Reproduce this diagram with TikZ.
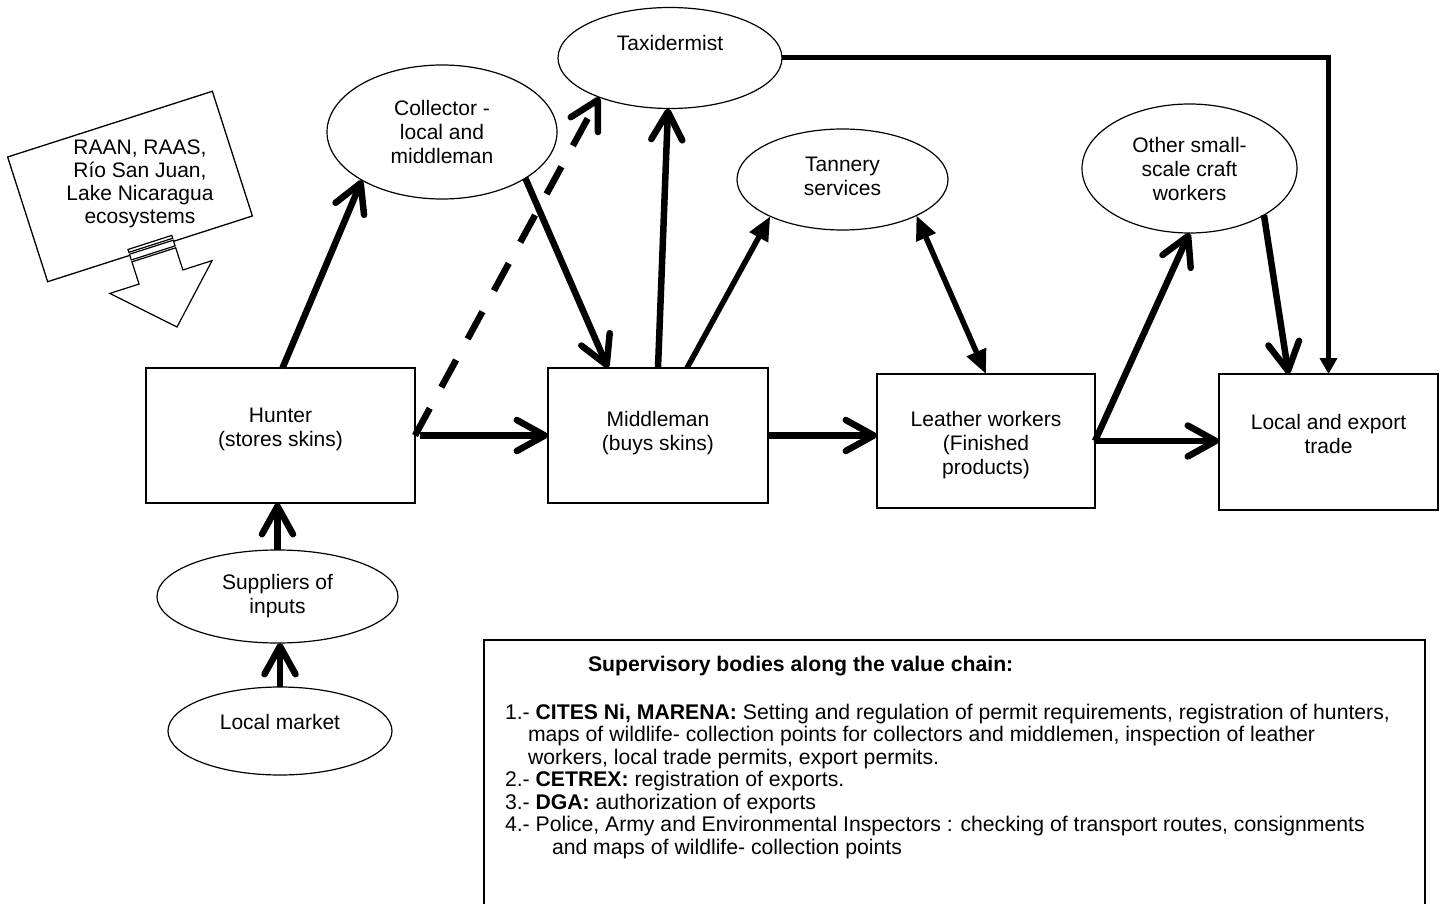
\documentclass[tikz,border=0pt]{standalone}
\usepackage{fontspec}
\setmainfont{Liberation Sans}
\usetikzlibrary{arrows.meta,shapes.geometric,calc}
\begin{document}
\begin{tikzpicture}[x=1pt,y=-1pt,
  every node/.style={inner sep=0pt, outer sep=0pt},
  lab/.style={font=\fontsize{21}{24}\selectfont, align=center},
  boxnode/.style={draw, line width=1.3pt, rectangle, lab},
  ellnode/.style={draw, line width=1.2pt, ellipse, lab},
  barb/.style={line width=6.5pt, -{Straight Barb[length=28pt,width=31pt,round]}},
  tri/.style={line width=5.5pt, -{Triangle[length=24pt,width=20pt]}},
  dtri/.style={line width=5.5pt, {Triangle[length=24pt,width=20pt]}-{Triangle[length=24pt,width=20pt]}},
]
\useasboundingbox (0,0) rectangle (1444,904);
\clip (0,0) rectangle (1444,904);

% boxes
\node[boxnode, minimum width=269pt, minimum height=135pt,
  label={[lab,yshift=6pt]center:Hunter\\(stores skins)}] (hunter) at (280.5,435.5) {};
\node[boxnode, minimum width=220pt, minimum height=135pt,
  label={[lab,yshift=2pt]center:Middleman\\(buys skins)}] (mid) at (658,435.5) {};
\node[boxnode, minimum width=218pt, minimum height=134pt,
  label={[lab,yshift=-4pt]center:Leather workers\\(Finished\\products)}] (leather) at (986,441) {};
\node[boxnode, minimum width=219pt, minimum height=136pt,
  label={[lab,yshift=8pt]center:Local and export\\trade}] (local) at (1328.5,442) {};

% ellipses
\node[ellnode, minimum width=230pt, minimum height=134pt] (coll) at (442,132) {Collector -\\local and\\middleman};
\node[ellnode, minimum width=224pt, minimum height=101pt,
  label={[lab,yshift=15pt]center:Taxidermist}] (tax) at (670,58) {};
\node[ellnode, minimum width=211pt, minimum height=101pt,
  label={[lab,yshift=3pt]center:Tannery\\services}] (tan) at (842.5,179.5) {};
\node[ellnode, minimum width=215pt, minimum height=129pt] (other) at (1189.5,168.5) {Other small-\\scale craft\\workers};
\node[ellnode, minimum width=241pt, minimum height=93pt] (sup) at (277.5,596.5) {Suppliers of\\inputs};
\node[ellnode, minimum width=224pt, minimum height=88pt,
  label={[lab,yshift=9pt]center:Local market}] (lm) at (280,731) {};

% tilted ecosystems box
\node[draw, line width=1.3pt, minimum width=215pt, minimum height=131pt, rotate=17.8] (eco) at (130,186.5) {};
\node[font=\fontsize{21}{23}\selectfont, align=center] (ecot) at (140,184) {RAAN, RAAS,\\Río San Juan,\\Lake Nicaragua\\ecosystems};

% striped block arrow
\begin{scope}[shift={(177,327)}, rotate=17.8, line width=1.2pt]
  \draw[fill=white] (0,0) -- (53.7,-52.5) -- (23,-52.5) -- (23,-75.8) -- (-23,-75.8) -- (-23,-52.5) -- (-53.7,-52.5) -- cycle;
  \draw[fill=white] (-23,-77.8) rectangle (23,-83.8);
  \draw[fill=white] (-23,-85.8) rectangle (23,-88.8);
\end{scope}

% connectors
\draw[barb] ([xshift=2pt]hunter.north) -- (coll.211);
\draw[barb] (coll.331) -- ([xshift=-50pt]mid.north);
\draw[barb, dash pattern=on 31pt off 24pt, line cap=butt] (hunter.east) -- (tax.209);
\draw[barb] ([xshift=5pt]hunter.east) -- (mid.west);
\draw[barb] (mid.north) -- ([xshift=-2pt]tax.south);
\draw[tri] ([xshift=29pt]mid.north) -- (tan.207);
\draw[dtri] (tan.334) -- (leather.north);
\draw[barb] (mid.east) -- (mid.east -| leather.west);
\draw[barb] (leather.east) -- (leather.east -| local.west);
\draw[barb] (leather.east) -- (other.south);
\draw[barb] (other.328) -- ([xshift=-40pt]local.north);
\draw[line width=5pt, -{Triangle[length=16pt,width=17pt]}] (tax.east) -| (local.north);
\draw[barb] (sup.north) -- (sup.north |- hunter.south);
\draw[barb] (lm.north) -- (lm.north |- sup.south);

% supervisory bodies box
\node[draw, line width=1.3pt, anchor=north west, minimum width=941pt, minimum height=280pt] (sbox) at (484,640) {};
\node[anchor=north west, align=left, font=\fontsize{21.2}{22.5}\selectfont] (stext) at (505,656) {%
\hspace*{83pt}\textbf{Supervisory bodies along the value chain:}\\[25.5pt]
1.- \textbf{CITES Ni, MARENA:} Setting and regulation of permit requirements, registration of hunters,\\
\hspace*{23pt}maps of wildlife- collection points for collectors and middlemen, inspection of leather\\
\hspace*{23pt}workers, local trade permits, export permits.\\
2.- \textbf{CETREX:} registration of exports.\\
3.- \textbf{DGA:} authorization of exports\\
4.- Police, Army and Environmental Inspectors : checking of transport routes, consignments\\
\hspace*{47pt}and maps of wildlife- collection points};
\end{tikzpicture}
\end{document}
